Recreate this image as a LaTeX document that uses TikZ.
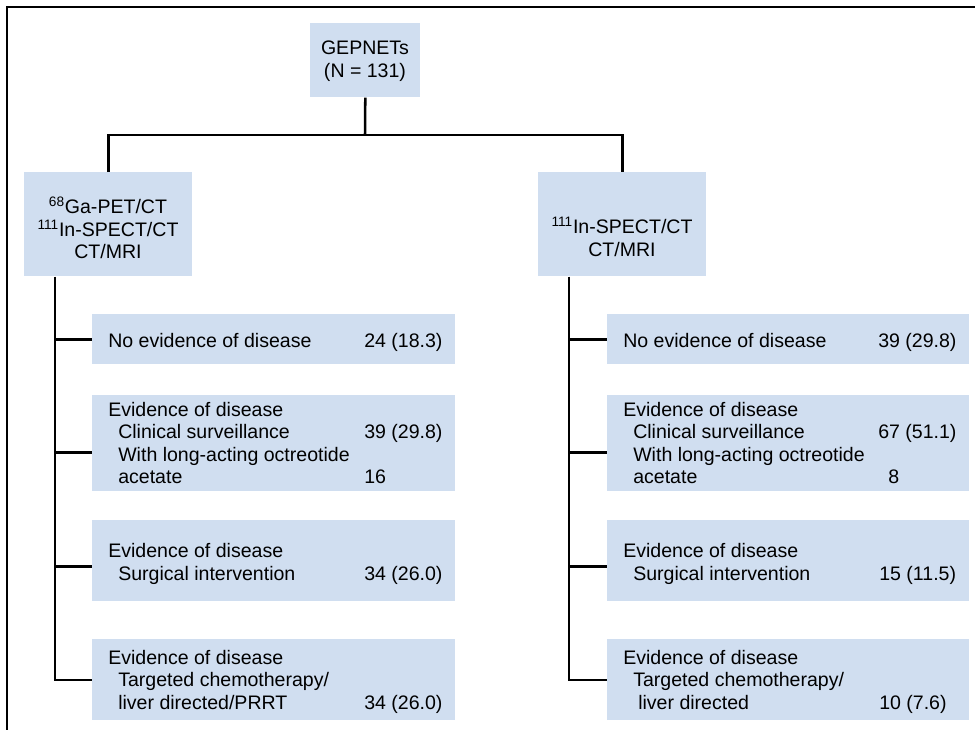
\documentclass[tikz,border=0pt]{standalone}
\usepackage{fontspec}
\setmainfont{Liberation Sans}
\usetikzlibrary{calc}
\definecolor{boxblue}{RGB}{208,222,240}

\begin{document}
\begin{tikzpicture}[x=0.025cm, y=-0.025cm,
    font=\fontsize{13.9}{16.1}\selectfont,
    box/.style={fill=boxblue, inner sep=0pt, anchor=north west},
    txt/.style={inner sep=0pt, anchor=base west},
    mid/.style={inner sep=0pt, align=center},
    conn/.style={line width=1.8pt}]
  \useasboundingbox (0,0) rectangle (975,730);

  % frame
  \draw[line width=1.3pt] (7,730) -- (7,7) -- (975,7);

  \node[box, minimum width=2.75cm, minimum height=1.85cm] (top) at (310,23) {};
  \node[mid] (toptxt) at (365,61) {GEPNETs\\(N = 131)};

  \node[box, minimum width=4.2cm, minimum height=2.6cm] (left) at (24,172) {};
  \node[mid] (lefttxt) at (108,228) {\textsuperscript{68}Ga-PET/CT\\\textsuperscript{111}In-SPECT/CT\\CT/MRI};
  \node[box, minimum width=4.2cm, minimum height=2.6cm] (right) at (538,172) {};
  \node[mid] (righttxt) at (622,237) {\textsuperscript{111}In-SPECT/CT\\CT/MRI};

  % left branch
  \node[box, minimum width=9.075cm, minimum height=1.25cm] (l1) at (92,314) {};
  \node[box, minimum width=9.075cm, minimum height=2.4cm] (l2) at (92,395) {};
  \node[box, minimum width=9.075cm, minimum height=2.025cm] (l3) at (92,520) {};
  \node[box, minimum width=9.075cm, minimum height=2.025cm] (l4) at (92,639) {};

  \node[txt] (l1a) at (108,347) {No evidence of disease};
  \node[txt] (l1n) at (364,347) {24 (18.3)};
  \node[txt] (l2a) at (108,416) {Evidence of disease};
  \node[txt] (l2b) at (118,438.5) {Clinical surveillance};
  \node[txt] (l2n) at (364,438.5) {39 (29.8)};
  \node[txt] (l2c) at (118,461) {With long-acting octreotide};
  \node[txt] (l2d) at (118,483.5) {acetate};
  \node[txt] (l2m) at (364,483.5) {16};
  \node[txt] (l3a) at (108,557) {Evidence of disease};
  \node[txt] (l3b) at (118,580) {Surgical intervention};
  \node[txt] (l3n) at (364,580) {34 (26.0)};
  \node[txt] (l4a) at (108,664) {Evidence of disease};
  \node[txt] (l4b) at (118,686.5) {Targeted chemotherapy/};
  \node[txt] (l4c) at (118,709) {liver directed/PRRT};
  \node[txt] (l4n) at (364,709) {34 (26.0)};

  % right branch
  \node[box, minimum width=9.05cm, minimum height=1.25cm] (r1) at (607,314) {};
  \node[box, minimum width=9.05cm, minimum height=2.4cm] (r2) at (607,395) {};
  \node[box, minimum width=9.05cm, minimum height=2.025cm] (r3) at (607,520) {};
  \node[box, minimum width=9.05cm, minimum height=2.025cm] (r4) at (607,639) {};

  \node[txt] (r1a) at (623,347) {No evidence of disease};
  \node[txt] (r1n) at (878,347) {39 (29.8)};
  \node[txt] (r2a) at (623,416) {Evidence of disease};
  \node[txt] (r2b) at (633,438.5) {Clinical surveillance};
  \node[txt] (r2n) at (878,438.5) {67 (51.1)};
  \node[txt] (r2c) at (633,461) {With long-acting octreotide};
  \node[txt] (r2d) at (633,483.5) {acetate};
  \node[txt] (r2m) at (888,483.5) {8};
  \node[txt] (r3a) at (623,557) {Evidence of disease};
  \node[txt] (r3b) at (633,580) {Surgical intervention};
  \node[txt] (r3n) at (879,580) {15 (11.5)};
  \node[txt] (r4a) at (623,664) {Evidence of disease};
  \node[txt] (r4b) at (633,686.5) {Targeted chemotherapy/};
  \node[txt] (r4c) at (638,709) {liver directed};
  \node[txt] (r4n) at (879,709) {10 (7.6)};

  % connectors
  \coordinate (bar) at (365,135);
  \draw[conn] (top.south) -- (bar);
  \draw[conn] (left.north) |- (bar) -| (right.north);

  \coordinate (lstem) at ($(left.south west)+(31,0)$);
  \coordinate (l2in) at ($(l2.west)+(0,9)$);
  \coordinate (l3in) at ($(l3.west)+(0,5.5)$);
  \draw[conn] (lstem) |- (l4.west);
  \draw[conn] (lstem |- l1.west) -- (l1.west);
  \draw[conn] (lstem |- l2in) -- (l2in);
  \draw[conn] (lstem |- l3in) -- (l3in);

  \coordinate (rstem) at ($(right.south west)+(31,0)$);
  \coordinate (r2in) at ($(r2.west)+(0,9)$);
  \coordinate (r3in) at ($(r3.west)+(0,5.5)$);
  \draw[conn] (rstem) |- (r4.west);
  \draw[conn] (rstem |- r1.west) -- (r1.west);
  \draw[conn] (rstem |- r2in) -- (r2in);
  \draw[conn] (rstem |- r3in) -- (r3in);
\end{tikzpicture}
\end{document}
